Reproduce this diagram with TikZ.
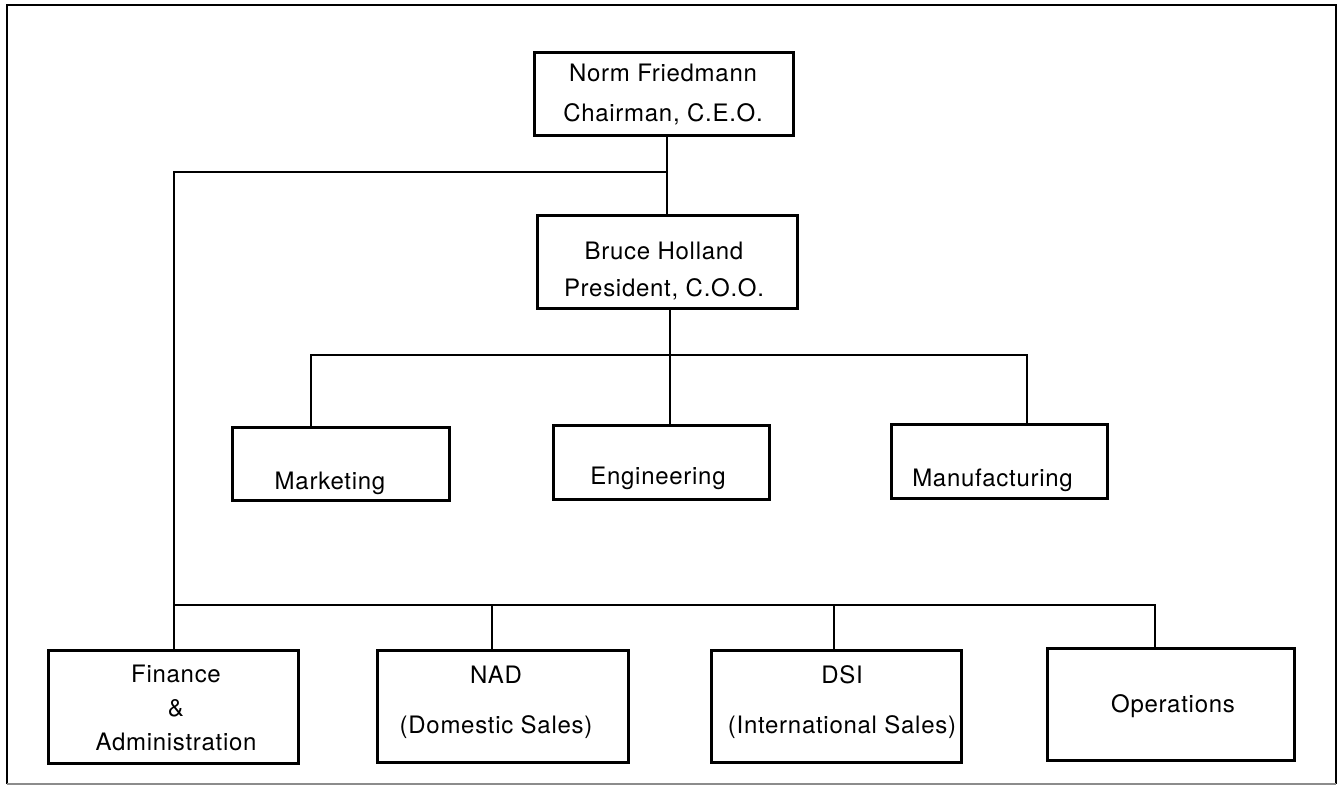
\documentclass[tikz,border=0pt]{standalone}
\usepackage{fontspec}
\setmainfont[LetterSpace=3]{TeX Gyre Heros}
\begin{document}
\begin{tikzpicture}[x=1pt,y=-1pt,
  box/.style={draw=black, line width=3pt, inner sep=0pt, line join=miter},
  lbl/.style={font=\fontsize{24}{29}\selectfont, align=center, inner sep=0pt},
  conn/.style={line width=2.8pt, line join=miter, line cap=rect},
  frame/.style={line width=2.8pt, line join=miter}]
\useasboundingbox (0,0) rectangle (1341,786);
% frame
\draw[frame] (7,784) -- (7,5) -- (1336,5) -- (1336,784);
\draw[line width=1.5pt, black!45] (7,784) -- (1336,784);

% boxes
\node[box, minimum width=259pt, minimum height=83pt] (ceo) at (663.5,94.5) {};
\node[box, minimum width=260pt, minimum height=93pt] (bruce) at (667,262.5) {};
\node[box, minimum width=217pt, minimum height=73pt] (mkt) at (340.5,463.5) {};
\node[box, minimum width=216pt, minimum height=74pt] (eng) at (661,462) {};
\node[box, minimum width=216pt, minimum height=74pt] (mfg) at (999,461) {};
\node[box, minimum width=250pt, minimum height=113pt] (fin) at (173,706.5) {};
\node[box, minimum width=251pt, minimum height=112pt] (nad) at (502.5,706) {};
\node[box, minimum width=250pt, minimum height=112pt] (dsi) at (836,706) {};
\node[box, minimum width=247pt, minimum height=112pt] (ops) at (1170.5,704) {};

% texts
\node[lbl] (ceo-t) at (663,95) {Norm Friedmann\\[11pt]Chairman, C.E.O.};
\node[lbl] (bruce-t) at (664,271.5) {Bruce Holland\\[8pt]President, C.O.O.};
\node[lbl] (mkt-t) at (330,483) {Marketing};
\node[lbl] (eng-t) at (658,478) {Engineering};
\node[lbl] (mfg-t) at (992.5,480) {Manufacturing};
\node[lbl] (fin-t) at (176,708) {Finance\\[5pt]\&\\[5pt]Administration};
\node[lbl] (nad-t) at (496,702) {NAD\\[21pt](Domestic Sales)};
\node[lbl] (dsi-t) at (842,702) {DSI\\[21pt](International Sales)};
\node[lbl] (ops-t) at (1173,706) {Operations};

% junction coordinates
\coordinate (jTop) at (667,172);
\coordinate (jL) at (174,172);
\coordinate (bL) at (174,605);
\coordinate (bR) at (1155,605);
\coordinate (bN) at (492,605);
\coordinate (bD) at (834,605);
\coordinate (mB) at (670,355);
\coordinate (mL) at (311,355);
\coordinate (mR) at (1027,355);

% connectors
\draw[conn] (ceo.south -| jTop) -- (bruce.north -| jTop);
\draw[conn] (jTop) -- (jL) -- (jL |- fin.north);
\draw[conn] (bL) -- (bR) -- (bR |- ops.north);
\draw[conn] (bN) -- (bN |- nad.north);
\draw[conn] (bD) -- (bD |- dsi.north);
\draw[conn] (bruce.south -| mB) -- (mB);
\draw[conn] (mL |- mkt.north) -- (mL) -- (mR) -- (mR |- mfg.north);
\draw[conn] (mB) -- (mB |- eng.north);
\end{tikzpicture}
\end{document}
